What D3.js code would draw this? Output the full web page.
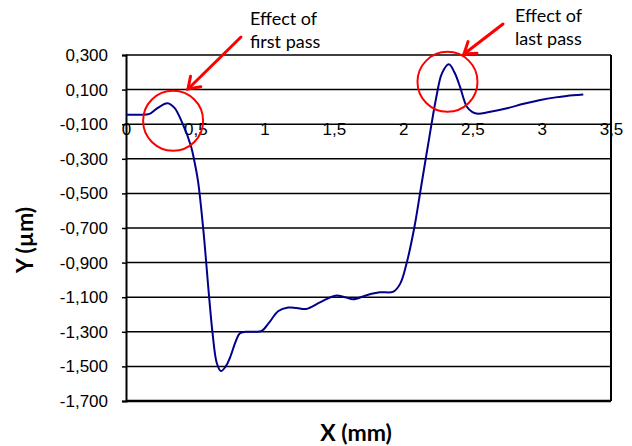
<!DOCTYPE html>
<html>
<head>
<meta charset="utf-8">
<script src="https://cdn.jsdelivr.net/npm/d3@7"></script>
<style>
  body { margin: 0; background: #fff; }
  svg { display: block; }
</style>
</head>
<body>
<div id="chart"></div>
<script>
// profile data (x in mm, y in µm)
const xVals = [0, 0.10, 0.17, 0.23, 0.30, 0.35, 0.41, 0.47, 0.495, 0.52, 0.558, 0.60, 0.625, 0.655, 0.685,
  0.72, 0.75, 0.79, 0.82, 0.86, 0.93, 0.98, 1.03, 1.10, 1.17, 1.23, 1.30, 1.40, 1.51, 1.58, 1.64,
  1.73, 1.83, 1.93, 1.98, 2.025, 2.08, 2.13, 2.19, 2.24, 2.28, 2.33, 2.37, 2.41, 2.46, 2.50, 2.54,
  2.62, 2.75, 2.87, 2.99, 3.10, 3.18, 3.30];
const yVals = [-0.045, -0.045, -0.040, -0.005, 0.021, -0.006, -0.10, -0.23, -0.32, -0.43, -0.71, -1.10, -1.31, -1.48, -1.527,
  -1.50, -1.45, -1.36, -1.31, -1.30, -1.30, -1.295, -1.25, -1.18, -1.16, -1.162, -1.168, -1.13, -1.091, -1.10, -1.112,
  -1.09, -1.072, -1.068, -1.02, -0.904, -0.70, -0.46, -0.17, 0.059, 0.194, 0.246, 0.20, 0.117, 0.001, -0.03, -0.040,
  -0.03, -0.008, 0.018, 0.040, 0.055, 0.063, 0.071];

const xTicks = [0, 0.5, 1, 1.5, 2, 2.5, 3, 3.5];
const xTickLabels = ['0', '0,5', '1', '1,5', '2', '2,5', '3', '3,5'];
const yTicks = [0.3, 0.1, -0.1, -0.3, -0.5, -0.7, -0.9, -1.1, -1.3, -1.5, -1.7];
const yTickLabels = ['0,300', '0,100', '-0,100', '-0,300', '-0,500', '-0,700', '-0,900', '-1,100', '-1,300', '-1,500', '-1,700'];

// annotations: circled regions (data coords) and callout text
const circleCenters = [[0.34, -0.08], [2.32, 0.145]];
const calloutLines = [['Effect of', 'first pass'], ['Effect of', 'last pass']];

const width = 632, height = 446;
const margin = { top: 55, right: 21, bottom: 45, left: 126 };

const svg = d3.select('#chart').append('svg')
  .attr('width', width)
  .attr('height', height);

svg.append('rect').attr('width', width).attr('height', height).attr('fill', '#fff');

const x = d3.scaleLinear().domain([0, 3.5]).range([margin.left, width - margin.right]);
const y = d3.scaleLinear().domain([-1.7, 0.3]).range([height - margin.bottom, margin.top]);

// horizontal gridlines
svg.append('g')
  .selectAll('line')
  .data(yTicks)
  .join('line')
  .attr('x1', x(0))
  .attr('x2', x(3.5))
  .attr('y1', d => y(d))
  .attr('y2', d => y(d))
  .attr('stroke', '#000')
  .attr('stroke-width', d => d === -1.7 ? 2.4 : 1.5);

// right border
svg.append('line')
  .attr('x1', x(3.5)).attr('x2', x(3.5))
  .attr('y1', y(0.3)).attr('y2', y(-1.7))
  .attr('stroke', '#000').attr('stroke-width', 2);

// y axis
const yAxis = d3.axisLeft(y)
  .tickValues(yTicks)
  .tickSize(4)
  .tickPadding(14)
  .tickFormat((d, i) => yTickLabels[i]);

const gy = svg.append('g')
  .attr('transform', `translate(${x(0)},0)`)
  .call(yAxis);
gy.select('.domain').attr('stroke-width', 2);
gy.selectAll('.tick line').attr('stroke-width', 1.5);
gy.selectAll('text')
  .style('font-family', '"Liberation Sans", Arial, sans-serif')
  .style('font-size', '17px')
  .attr('fill', '#000');

// x axis sits on the -0,100 gridline, labels overlap the line
const xAxis = d3.axisBottom(x)
  .tickValues(xTicks)
  .tickSize(0)
  .tickPadding(0)
  .tickFormat((d, i) => xTickLabels[i]);

const gx = svg.append('g')
  .attr('transform', `translate(0,${y(-0.1)})`)
  .call(xAxis);
gx.select('.domain').remove();
gx.selectAll('text')
  .attr('dy', null)
  .attr('y', 11)
  .style('font-family', '"Liberation Sans", Arial, sans-serif')
  .style('font-size', '17px')
  .attr('fill', '#000');

// profile line
const line = d3.line()
  .x((d, i) => x(xVals[i]))
  .y(d => y(d))
  .curve(d3.curveCatmullRom.alpha(0.5));

svg.append('path')
  .datum(yVals)
  .attr('d', line)
  .attr('fill', 'none')
  .attr('stroke', '#00008b')
  .attr('stroke-width', 2);

// axis titles
svg.append('text')
  .attr('x', 356)
  .attr('y', 441)
  .attr('text-anchor', 'middle')
  .style('font-family', 'Lato, "Open Sans", sans-serif')
  .style('font-weight', '700')
  .style('font-size', '23px')
  .text('X (mm)');

svg.append('text')
  .attr('transform', 'translate(33,240) rotate(-90)')
  .attr('text-anchor', 'middle')
  .style('font-family', 'Lato, "Open Sans", sans-serif')
  .style('font-weight', '700')
  .style('font-size', '23px')
  .text('Y (µm)');

// red circles
svg.append('g')
  .selectAll('circle')
  .data(circleCenters)
  .join('circle')
  .attr('cx', d => x(d[0]))
  .attr('cy', d => y(d[1]))
  .attr('r', 30)
  .attr('fill', 'none')
  .attr('stroke', '#ff0000')
  .attr('stroke-width', 2);

// arrows: from text towards the circle
const arrows = [
  { from: [241, 37], to: [188, 89] },
  { from: [503, 24], to: [464, 54] }
];
arrows.forEach(a => {
  const g = svg.append('g')
    .attr('stroke', '#ff0000')
    .attr('stroke-width', 3)
    .attr('fill', 'none')
    .attr('stroke-linecap', 'round');
  g.append('line')
    .attr('x1', a.from[0]).attr('y1', a.from[1])
    .attr('x2', a.to[0]).attr('y2', a.to[1]);
  const ang = Math.atan2(a.from[1] - a.to[1], a.from[0] - a.to[0]);
  const len = 13, spread = 0.6;
  const p1 = [a.to[0] + len * Math.cos(ang - spread), a.to[1] + len * Math.sin(ang - spread)];
  const p2 = [a.to[0] + len * Math.cos(ang + spread), a.to[1] + len * Math.sin(ang + spread)];
  g.append('path')
    .attr('d', `M${p1[0]},${p1[1]}L${a.to[0]},${a.to[1]}L${p2[0]},${p2[1]}`);
});

// callout text
const calloutPos = [[250, 25], [515, 22]];
calloutLines.forEach((lines, k) => {
  const t = svg.append('text')
    .attr('x', calloutPos[k][0])
    .attr('y', calloutPos[k][1])
    .style('font-family', 'Lato, "Open Sans", sans-serif')
    .style('font-size', '18px')
    .attr('fill', '#000');
  lines.forEach((s, i) => {
    t.append('tspan')
      .attr('x', calloutPos[k][0])
      .attr('dy', i === 0 ? 0 : 22.5)
      .text(s);
  });
});
</script>
</body>
</html>
